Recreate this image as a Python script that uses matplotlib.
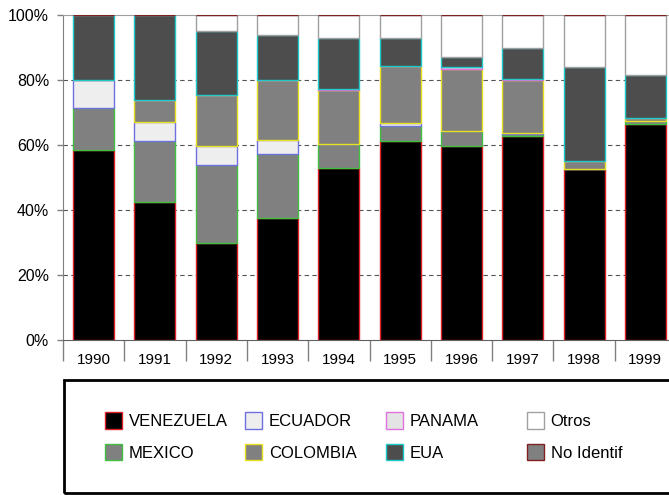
import matplotlib
matplotlib.use('Agg')
import matplotlib.pyplot as plt
import numpy as np
from matplotlib.patches import Patch, Rectangle
from matplotlib.ticker import FixedLocator, NullFormatter, FuncFormatter

plt.rcParams['font.family'] = ['Liberation Sans', 'DejaVu Sans']

years = ['1990', '1991', '1992', '1993', '1994', '1995', '1996', '1997', '1998', '1999']

# shares in % (stacked bottom -> top)
venezuela = [58.5, 42.4, 29.7, 37.6, 52.8, 61.3, 59.8, 62.9, 52.6, 66.4]
mexico = [13.0, 18.9, 24.3, 19.6, 7.4, 4.5, 4.6, 0.5, 0.0, 0.9]
ecuador = [8.5, 5.9, 5.8, 4.4, 0.0, 0.9, 0.0, 0.2, 0.0, 0.0]
colombia = [0.0, 6.6, 15.6, 18.5, 16.6, 17.6, 19.0, 16.5, 2.5, 0.9]
panama = [0.0, 0.0, 0.0, 0.0, 0.3, 0.0, 0.5, 0.3, 0.0, 0.0]
eua = [20.0, 26.2, 19.6, 13.7, 15.8, 8.7, 3.2, 9.3, 28.8, 13.2]
otros = [0.0, 0.0, 5.0, 6.2, 7.1, 7.0, 12.9, 10.3, 16.1, 18.6]
no_identif = [0.0] * 10

labels = ['VENEZUELA', 'MEXICO', 'ECUADOR', 'COLOMBIA', 'PANAMA', 'EUA', 'Otros', 'No Identif']
series = [venezuela, mexico, ecuador, colombia, panama, eua, otros, no_identif]
faces = ['#000000', '#808080', '#EEEEEE', '#808080', '#E4E4E4', '#4D4D4D', '#FFFFFF', '#808080']
edges = ['#E0202A', '#40C040', '#6F6FE0', '#E8E020', '#E070E0', '#20C8C8', '#A0A0A0', '#802020']

fig = plt.figure(figsize=(6.69, 4.95), dpi=100)
ax = fig.add_axes([63 / 669, 155 / 495, 613 / 669, 325 / 495])

x = np.arange(len(years))
bottom = np.zeros(len(years))
for vals, fc, ec in zip(series, faces, edges):
    vals = np.array(vals)
    ax.bar(x, vals, width=0.67, bottom=bottom, color=fc, edgecolor=ec,
           linewidth=1.0, zorder=3)
    bottom += vals

ax.set_xlim(-0.5, len(years) - 0.5)
ax.set_ylim(0, 100)

ax.set_yticks([0, 20, 40, 60, 80, 100])
ax.yaxis.set_major_formatter(FuncFormatter(lambda v, p: '%d%%' % v))
ax.tick_params(axis='y', length=4, width=1, color='#808080', pad=6,
               labelsize=11.5)
for yv in [20, 40, 60, 80]:
    ax.axhline(yv, color='#555555', lw=0.8, ls=(0, (4, 3)), zorder=1)

ax.xaxis.set_major_locator(FixedLocator(np.arange(-0.5, len(years), 1.0)))
ax.xaxis.set_major_formatter(NullFormatter())
ax.xaxis.set_minor_locator(FixedLocator(x))
ax.set_xticklabels(years, minor=True)
ax.tick_params(axis='x', which='major', length=15, width=1, color='#808080')
ax.tick_params(axis='x', which='minor', length=0, pad=9, labelsize=11)

ax.spines['right'].set_visible(False)
ax.spines['top'].set_color('#A0A0A0')
ax.spines['left'].set_color('#808080')
ax.spines['bottom'].set_color('#606060')

# legend frame
fig.add_artist(Rectangle((64 / 669, 2 / 495), 620 / 669, 113 / 495,
                         transform=fig.transFigure, fill=False,
                         edgecolor='black', linewidth=2))

handles = [Patch(facecolor=fc, edgecolor=ec, linewidth=1.0) for fc, ec in zip(faces, edges)]
col_x = [105, 245, 386, 527]
for i, cx in enumerate(col_x):
    leg = fig.legend(handles[2 * i:2 * i + 2], labels[2 * i:2 * i + 2],
                     loc='upper left', bbox_to_anchor=(cx / 669, 1 - 412 / 495),
                     frameon=False, borderpad=0, borderaxespad=0,
                     handlelength=1.0, handleheight=1.15, handletextpad=0.42,
                     labelspacing=0.9, fontsize=12)

fig.savefig('out.png', dpi=100)
